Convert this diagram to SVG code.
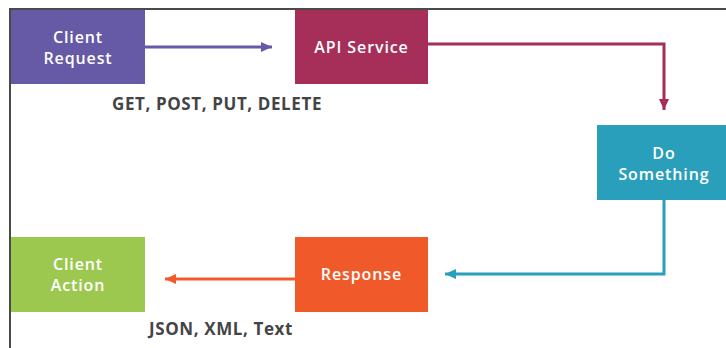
<svg xmlns="http://www.w3.org/2000/svg" width="726" height="348" viewBox="0 0 726 348">
<defs>
<style>
.frame{fill:none;stroke:#4a4a4a;stroke-width:2}
.t{font-family:"Open Sans","Liberation Sans",sans-serif;font-weight:600;font-size:16px;letter-spacing:0.9px;fill:#fff;text-anchor:middle}
.lbl{font-family:"Open Sans","Liberation Sans",sans-serif;font-weight:700;font-size:17px;letter-spacing:0.6px;fill:#444;text-anchor:middle}
.c{fill:none;stroke-width:3}
</style>
<marker id="mP" markerUnits="userSpaceOnUse" markerWidth="12" markerHeight="12" refX="11" refY="6" orient="auto"><path d="M0,1 L11,6 L0,11 Z" fill="#6659A6"/></marker>
<marker id="mR" markerUnits="userSpaceOnUse" markerWidth="12" markerHeight="12" refX="11" refY="6" orient="auto"><path d="M0,1 L11,6 L0,11 Z" fill="#A62F5A"/></marker>
<marker id="mT" markerUnits="userSpaceOnUse" markerWidth="12" markerHeight="12" refX="11" refY="6" orient="auto"><path d="M0,1 L11,6 L0,11 Z" fill="#2A9FBB"/></marker>
<marker id="mO" markerUnits="userSpaceOnUse" markerWidth="12" markerHeight="12" refX="11" refY="6" orient="auto"><path d="M0,1 L11,6 L0,11 Z" fill="#F05A2A"/></marker>
</defs>
<rect width="726" height="348" fill="#fff"/>
<path class="frame" d="M10,348 V9 H726"/>
<g id="connectors">
<path class="c" stroke="#6659A6" d="M145,47 H272" marker-end="url(#mP)"/>
<path class="c" stroke="#A62F5A" d="M428,44 H664 V110" marker-end="url(#mR)"/>
<path class="c" stroke="#2A9FBB" d="M664,200 V274 H445" marker-end="url(#mT)"/>
<path class="c" stroke="#F05A2A" d="M295,279 H165" marker-end="url(#mO)"/>
</g>
<g id="client-request"><rect x="11" y="10" width="134" height="74" fill="#6659A6"/><text class="t" x="78" y="43">Client</text><text class="t" x="78" y="64">Request</text></g>
<g id="api-service"><rect x="295" y="10" width="133" height="74" fill="#A62F5A"/><text class="t" x="361.5" y="53">API Service</text></g>
<g id="do-something"><rect x="597" y="125" width="129" height="75" fill="#2A9FBB"/><text class="t" x="664" y="159">Do</text><text class="t" x="664" y="180">Something</text></g>
<g id="client-action"><rect x="11" y="237" width="134" height="75" fill="#9DC850"/><text class="t" x="78" y="270">Client</text><text class="t" x="78" y="291">Action</text></g>
<g id="response"><rect x="295" y="237" width="133" height="75" fill="#F05A2A"/><text class="t" x="361.5" y="280">Response</text></g>
<text class="lbl" x="217" y="110">GET, POST, PUT, DELETE</text>
<text class="lbl" x="221" y="335">JSON, XML, Text</text>
</svg>
